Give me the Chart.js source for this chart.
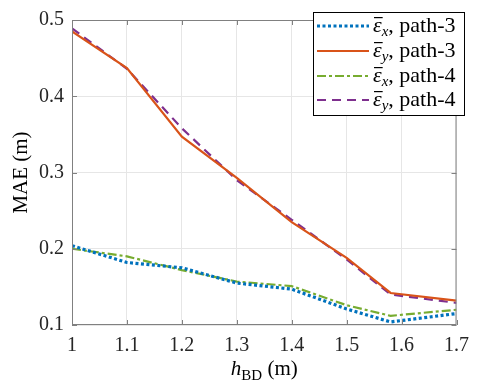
<!DOCTYPE html>
<html>
<head>
<meta charset="utf-8">
<script src="https://cdn.jsdelivr.net/npm/chart.js@4"></script>
<style>
  html, body { margin: 0; padding: 0; background: #fff; }
  #wrap { width: 478px; height: 382px; position: relative; }
</style>
</head>
<body>
<div id="wrap"><canvas id="chart"></canvas></div>
<script>
// x positions (h_BD, m)
var hBD = [1.0, 1.1, 1.2, 1.3, 1.4, 1.5, 1.58, 1.7];
// MAE series
var exPath3 = [0.204, 0.182, 0.175, 0.155, 0.147, 0.121, 0.104, 0.115];
var eyPath3 = [0.485, 0.437, 0.347, 0.293, 0.235, 0.188, 0.142, 0.132];
var exPath4 = [0.200, 0.190, 0.172, 0.157, 0.151, 0.126, 0.112, 0.120];
var eyPath4 = [0.489, 0.436, 0.358, 0.290, 0.238, 0.186, 0.140, 0.129];
var seriesSub = ['x', 'y', 'x', 'y'];
var seriesPath = ['path-3', 'path-3', 'path-4', 'path-4'];
var xTicks = [1, 1.1, 1.2, 1.3, 1.4, 1.5, 1.6, 1.7];
var yTicks = [0.1, 0.2, 0.3, 0.4, 0.5];

var SERIF = '"Liberation Serif", "Times New Roman", serif';
var AXIS = '#808080';

function pts(ys) {
    return hBD.map(function (x, i) { return {x: x, y: ys[i]}; });
}

var colors = ['#0072BD', '#D95319', '#77AC30', '#7E2F8E'];
var dashes = [[3, 2.5], [], [9, 3, 3, 3], [9, 6]];
var widths = [3.2, 2.2, 2.2, 2.2];

var datasets = [exPath3, eyPath3, exPath4, eyPath4].map(function (ys, i) {
    return {
        data: pts(ys),
        borderColor: colors[i],
        borderWidth: widths[i],
        borderDash: dashes[i],
        pointRadius: 0,
        fill: false,
        tension: 0
    };
});

// ticks, titles and legend drawn on top, matlab style
var decor = {
    id: 'decor',
    afterDatasetsDraw: function (chart) {
        var c = chart.ctx, a = chart.chartArea;
        var xs = chart.scales.x, ys = chart.scales.y;
        c.save();
        // box
        c.strokeStyle = AXIS;
        c.lineWidth = 1;
        c.strokeRect(a.left + 0.5, a.top + 0.5, a.right - a.left - 1, a.bottom - a.top - 1);
        // inward ticks
        c.beginPath();
        xTicks.forEach(function (t) {
            var px = Math.round(xs.getPixelForValue(t)) + 0.5;
            c.moveTo(px, a.bottom); c.lineTo(px, a.bottom - 5);
            c.moveTo(px, a.top); c.lineTo(px, a.top + 5);
        });
        yTicks.forEach(function (t) {
            var py = Math.round(ys.getPixelForValue(t)) + 0.5;
            c.moveTo(a.left, py); c.lineTo(a.left + 5, py);
            c.moveTo(a.right, py); c.lineTo(a.right - 5, py);
        });
        c.stroke();

        // legend
        var lx = 313, ly = 12, lw = 151, lh = 103;
        c.fillStyle = '#fff';
        c.fillRect(lx, ly, lw, lh);
        c.strokeStyle = '#000';
        c.strokeRect(lx + 0.5, ly + 0.5, lw, lh);
        var rows = [26, 51, 76, 100];
        rows.forEach(function (ry, i) {
            c.beginPath();
            c.strokeStyle = colors[i];
            c.lineWidth = widths[i];
            c.setLineDash(dashes[i]);
            c.moveTo(317, ry); c.lineTo(369, ry);
            c.stroke();
            c.setLineDash([]);
            var base = ry + 6;
            var x = 373;
            c.fillStyle = '#000';
            c.textBaseline = 'alphabetic';
            c.textAlign = 'left';
            c.font = 'italic 22px ' + SERIF;
            c.fillText('\u03b5', x, base);
            var ew = c.measureText('\u03b5').width;
            c.fillRect(x + 1, base - 15, ew, 1.2);
            x += ew;
            c.font = 'italic 15px ' + SERIF;
            c.fillText(seriesSub[i], x, base + 4);
            x += c.measureText(seriesSub[i]).width;
            c.font = '22px ' + SERIF;
            c.fillText(', ' + seriesPath[i], x, base);
        });

        // y title
        c.fillStyle = '#000';
        c.font = '21px ' + SERIF;
        c.save();
        c.translate(27, (a.top + a.bottom) / 2);
        c.rotate(-Math.PI / 2);
        c.textAlign = 'center';
        c.fillText('MAE (m)', 0, 0);
        c.restore();

        // x title: h_BD (m)
        var parts = [
            {t: 'h', f: 'italic 21px ' + SERIF, dy: 0},
            {t: 'BD', f: '15px ' + SERIF, dy: 5},
            {t: ' (m)', f: '21px ' + SERIF, dy: 0}
        ];
        var total = 0;
        parts.forEach(function (p) { c.font = p.f; p.w = c.measureText(p.t).width; total += p.w; });
        var cx = (a.left + a.right) / 2 - total / 2;
        c.textAlign = 'left';
        parts.forEach(function (p) {
            c.font = p.f;
            c.fillText(p.t, cx, 375 + p.dy);
            cx += p.w;
        });
        c.restore();
    }
};

new Chart(document.getElementById('chart'), {
    type: 'line',
    data: {datasets: datasets},
    options: {
        responsive: true,
        maintainAspectRatio: false,
        animation: false,
        layout: {padding: {top: 12, right: 13, left: 0, bottom: 0}},
        plugins: {legend: {display: false}, tooltip: {enabled: false}},
        scales: {
            x: {
                type: 'linear',
                min: 1, max: 1.7,
                afterFit: function (s) { s.height = 57; },
                afterBuildTicks: function (s) { s.ticks = xTicks.map(function (v) { return {value: v}; }); },
                grid: {color: '#e6e6e6', drawTicks: false},
                border: {display: false},
                ticks: {
                    padding: 9,
                    color: '#262626',
                    font: {family: SERIF, size: 20},
                    callback: function (v) { return v === 1 ? '1' : v.toFixed(1); }
                }
            },
            y: {
                min: 0.1, max: 0.5,
                afterFit: function (s) { s.width = 72; },
                afterBuildTicks: function (s) { s.ticks = yTicks.map(function (v) { return {value: v}; }); },
                grid: {color: '#e6e6e6', drawTicks: false},
                border: {display: false},
                ticks: {
                    padding: 8,
                    color: '#262626',
                    font: {family: SERIF, size: 20},
                    callback: function (v) { return v.toFixed(1); }
                }
            }
        }
    },
    plugins: [decor]
});
</script>
</body>
</html>
